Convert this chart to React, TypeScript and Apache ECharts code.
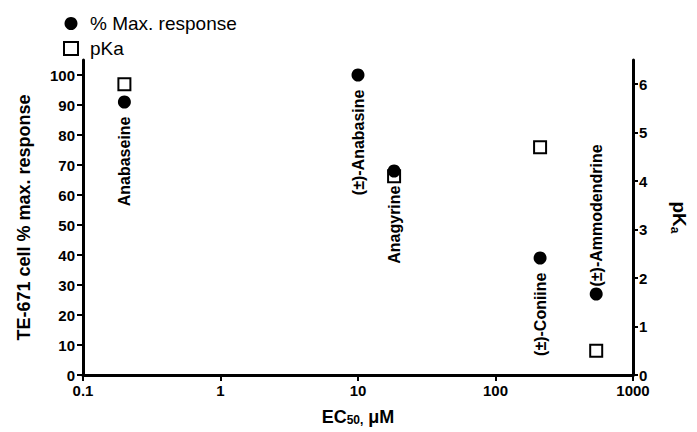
import React, { useEffect, useRef } from "react";
import * as echarts from "echarts";

const compounds = ["Anabaseine", "(±)-Anabasine", "Anagyrine", "(±)-Coniine", "(±)-Ammodendrine"];
const ec50 = [0.2, 10, 18.3, 211, 540];
const maxResponse = [91, 100, 68, 39, 27];
const pKa: (number | null)[] = [6.0, null, 4.1, 4.7, 0.5];
const labelAbove = [false, false, false, false, true];

const xTickLabels = ["0.1", "1", "10", "100", "1000"];
const leftTicks = [0, 10, 20, 30, 40, 50, 60, 70, 80, 90, 100];
const rightTicks = [0, 1, 2, 3, 4, 5, 6];

const FONT = "'Liberation Sans', Arial, sans-serif";

export default function App() {
  const ref = useRef<HTMLDivElement>(null);
  useEffect(() => {
    if (!ref.current) return;
    const chart = echarts.init(ref.current, undefined, { renderer: "svg" });
    const respData = compounds.map((name, i) => ({
      name,
      value: [ec50[i], maxResponse[i]],
      label: labelAbove[i]
        ? { position: "top", align: "left", distance: 1 }
        : { position: "bottom", align: "right", distance: 8 },
    }));
    const pkaData = compounds
      .map((name, i) => (pKa[i] == null ? null : { name, value: [ec50[i], pKa[i]] }))
      .filter((d) => d !== null);
    chart.setOption({
      animation: false,
      backgroundColor: "#fff",
      textStyle: { fontFamily: FONT, color: "#000" },
      legend: {
        orient: "vertical",
        left: 58,
        top: 9,
        itemWidth: 14,
        itemHeight: 13,
        itemGap: 6,
        textStyle: { fontSize: 19, color: "#000", fontFamily: FONT, padding: [0, 0, 0, 7] },
        data: ["% Max. response", "pKa"],
      },
      grid: { left: 83, right: 64, top: 60, bottom: 57, containLabel: false },
      xAxis: {
        type: "log",
        logBase: 10,
        min: 0.1,
        max: 1000,
        name: "EC{s|50,} μM",
        nameLocation: "middle",
        nameGap: 32,
        nameTextStyle: {
          fontSize: 18,
          fontWeight: "bold",
          color: "#000",
          fontFamily: FONT,
          rich: { s: { fontSize: 12, fontWeight: "bold", fontFamily: FONT, padding: [7, 0, 0, 0] } },
        },
        axisLine: { show: true, lineStyle: { color: "#000", width: 3 } },
        axisTick: { show: true, length: 6, lineStyle: { color: "#000", width: 2 } },
        minorTick: { show: false },
        splitLine: { show: false },
        axisLabel: {
          margin: 8,
          fontSize: 15,
          fontWeight: "bold",
          color: "#000",
          fontFamily: FONT,
          formatter: (v: number) => xTickLabels[Math.round(Math.log10(v)) + 1] ?? "",
        },
      },
      yAxis: [
        {
          type: "value",
          position: "left",
          min: 0,
          max: 105,
          name: "TE-671 cell % max. response",
          nameLocation: "middle",
          nameGap: 50,
          nameTextStyle: { fontSize: 18, fontWeight: "bold", color: "#000", fontFamily: FONT },
          axisLine: { show: true, lineStyle: { color: "#000", width: 3 } },
          axisTick: { show: true, length: 6, customValues: leftTicks, lineStyle: { color: "#000", width: 2 } },
          splitLine: { show: false },
          axisLabel: {
            customValues: leftTicks,
            margin: 8,
            fontSize: 15,
            fontWeight: "bold",
            color: "#000",
            fontFamily: FONT,
          },
        },
        {
          type: "value",
          position: "right",
          min: 0,
          max: 6.5,
          name: "pK{s|a}",
          nameLocation: "middle",
          nameRotate: -90,
          nameGap: 36,
          nameTextStyle: {
            fontSize: 19,
            fontWeight: "bold",
            color: "#000",
            fontFamily: FONT,
            rich: { s: { fontSize: 12, fontWeight: "bold", fontFamily: FONT, padding: [8, 0, 0, 0] } },
          },
          axisLine: { show: true, lineStyle: { color: "#000", width: 3 } },
          axisTick: { show: true, length: 5, customValues: rightTicks, lineStyle: { color: "#000", width: 2 } },
          splitLine: { show: false },
          axisLabel: {
            customValues: rightTicks,
            margin: 6,
            fontSize: 15,
            fontWeight: "bold",
            color: "#000",
            fontFamily: FONT,
          },
        },
      ],
      series: [
        {
          name: "% Max. response",
          type: "scatter",
          yAxisIndex: 0,
          symbol: "circle",
          symbolSize: 13,
          itemStyle: { color: "#000", opacity: 1 },
          label: {
            show: true,
            formatter: "{b}",
            rotate: 90,
            verticalAlign: "middle",
            fontSize: 16,
            fontWeight: "bold",
            color: "#000",
            opacity: 1,
            fontFamily: FONT,
          },
          emphasis: { disabled: true },
          data: respData,
          z: 3,
        },
        {
          name: "pKa",
          type: "scatter",
          yAxisIndex: 1,
          symbol: "rect",
          symbolSize: 12,
          itemStyle: { color: "#fff", borderColor: "#000", borderWidth: 2, opacity: 1 },
          emphasis: { disabled: true },
          data: pkaData,
          z: 2,
        },
      ],
    });
    return () => chart.dispose();
  }, []);
  return <div ref={ref} style={{ width: 697, height: 432, position: "absolute", left: 0, top: 0 }} />;
}
